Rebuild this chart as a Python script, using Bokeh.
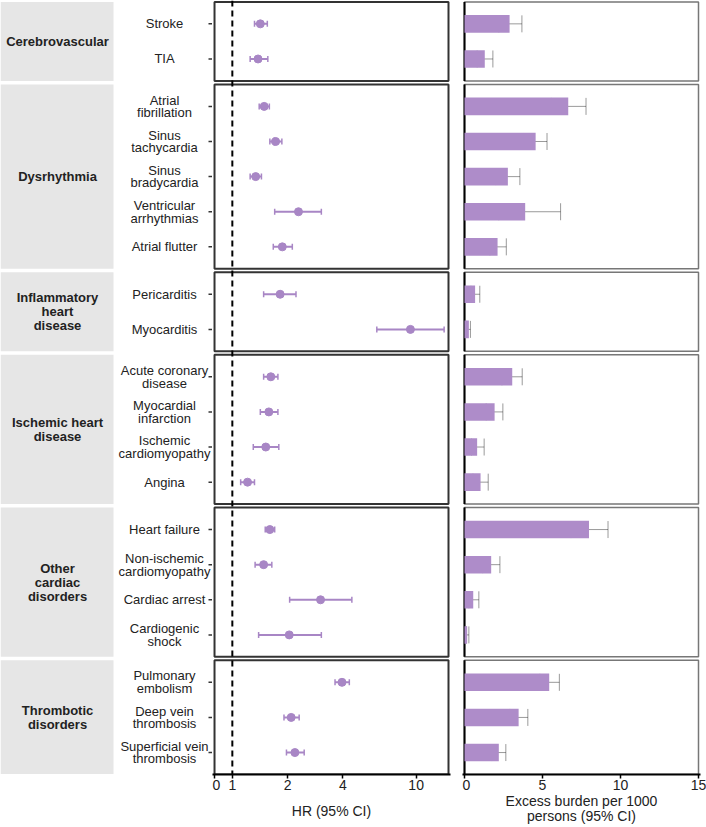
from bokeh.plotting import figure
from bokeh.layouts import row
from bokeh.models import (Range1d, FixedTicker, CustomJSTickFormatter, Whisker, TeeHead,
                          Span, ColumnDataSource)
from bokeh.core.properties import value
from bokeh.embed import file_html
from bokeh.resources import INLINE

# ---------------- data ----------------
groups = ["Cerebrovascular", "Dysrhythmia", "Inflammatory\nheart\ndisease",
          "Ischemic heart\ndisease", "Other\ncardiac\ndisorders", "Thrombotic\ndisorders"]
group_sizes = [2, 5, 2, 4, 4, 3]
outcomes = ["Stroke", "TIA", "Atrial\nfibrillation", "Sinus\ntachycardia", "Sinus\nbradycardia",
            "Ventricular\narrhythmias", "Atrial flutter", "Pericarditis", "Myocarditis",
            "Acute coronary\ndisease", "Myocardial\ninfarction", "Ischemic\ncardiomyopathy",
            "Angina", "Heart failure", "Non-ischemic\ncardiomyopathy", "Cardiac arrest",
            "Cardiogenic\nshock", "Pulmonary\nembolism", "Deep vein\nthrombosis",
            "Superficial vein\nthrombosis"]
hr = [1.42, 1.38, 1.49, 1.72, 1.34, 2.29, 1.87, 1.82, 9.31, 1.62, 1.58, 1.52, 1.21,
      1.60, 1.48, 3.02, 2.04, 3.95, 2.09, 2.19]
hr_lo = [1.32, 1.25, 1.40, 1.60, 1.25, 1.70, 1.67, 1.48, 6.11, 1.48, 1.42, 1.30, 1.11,
         1.51, 1.33, 2.05, 1.39, 3.62, 1.91, 1.97]
hr_hi = [1.55, 1.56, 1.59, 1.86, 1.44, 3.05, 2.12, 2.22, 14.2, 1.77, 1.77, 1.79, 1.32,
         1.70, 1.64, 4.47, 3.05, 4.33, 2.31, 2.46]
burden = [2.89, 1.30, 6.65, 4.56, 2.78, 3.89, 2.12, 0.68, 0.28, 3.06, 1.93, 0.81, 1.03,
          7.98, 1.71, 0.56, 0.17, 5.43, 3.47, 2.20]
burden_lo = [2.20, 0.81, 5.56, 3.81, 2.01, 2.20, 1.63, 0.41, 0.15, 2.40, 1.39, 0.45, 0.54,
             6.83, 1.17, 0.28, 0.13, 4.83, 2.91, 1.75]
burden_hi = [3.68, 1.82, 7.79, 5.29, 3.55, 6.16, 2.68, 0.98, 0.38, 3.70, 2.46, 1.26, 1.52,
             9.20, 2.27, 0.92, 0.28, 6.08, 4.06, 2.65]
hr_ticks = [0.8, 1, 2, 4, 10]      # 0.8 is labelled "0"
burden_ticks = [0, 5, 10, 15]

# ---------------- layout helpers ----------------
PAD = 0.625
GAP = 0.1
row_y, panel_top, panel_bot = [], [], []
s = 0.0
for n in group_sizes:
    panel_top.append(s)
    for i in range(n):
        row_y.append(s + PAD + i)
    e = s + (n - 1) + 2 * PAD
    panel_bot.append(e)
    s = e + GAP
total = panel_bot[-1]
group_mid = [(a + b) / 2 for a, b in zip(panel_top, panel_bot)]

FONT = "Liberation Sans"
PURPLE = "#a886c5"
BAR = "#ae8cc9"
FH = 774
yr = Range1d(start=total, end=-0.04)

def base(**kw):
    p = figure(frame_height=FH, y_range=yr, toolbar_location=None, output_backend="svg",
               min_border_top=0, min_border_bottom=0, **kw)
    p.grid.visible = False
    p.outline_line_color = None
    return p

# ---------------- labels column ----------------
LW = 212
pl = base(frame_width=LW, x_range=Range1d(0, LW), min_border_left=0, min_border_right=0)
pl.axis.visible = False
pl.quad(left=0, right=113, top=panel_top, bottom=panel_bot, fill_color="#e6e6e6", line_color=None)
pl.text(x=[57] * len(groups), y=group_mid, text=groups, text_font=value(FONT),
        text_font_style="bold", text_font_size="13px", text_align="center",
        text_baseline="middle", text_color="#222222", text_line_height=0.93)
pl.text(x=[164] * len(outcomes), y=row_y, text=outcomes, text_font=value(FONT),
        text_font_size="13px", text_align="center", text_baseline="middle",
        text_color="#222222", text_line_height=0.85)
# y tick marks of the HR panels
pl.segment(x0=[LW - 4] * len(row_y), x1=[LW] * len(row_y), y0=row_y, y1=row_y,
           line_color="#333333", line_width=1.5)

# ---------------- HR column ----------------
ph = base(frame_width=238, x_axis_type="log", x_range=Range1d(0.780, 15.38),
          min_border_left=0, min_border_right=12)
ph.quad(left=0.8, right=15, top=panel_top, bottom=panel_bot, fill_color=None,
        line_color="#333333", line_width=2)
ph.add_layout(Span(location=1, dimension="height", line_color="black", line_width=2,
                   line_dash="6 4"))
hsrc = ColumnDataSource(dict(y=row_y, hr=hr, lo=hr_lo, hi=hr_hi))
ph.add_layout(Whisker(source=hsrc, base="y", lower="lo", upper="hi", dimension="width",
                      line_color=PURPLE, line_width=2,
                      lower_head=TeeHead(size=6, line_color=PURPLE, line_width=1.5),
                      upper_head=TeeHead(size=6, line_color=PURPLE, line_width=1.5)))
ph.scatter(x="hr", y="y", source=hsrc, size=8, color=PURPLE)

ph.xaxis.ticker = FixedTicker(ticks=hr_ticks)
ph.xaxis.formatter = CustomJSTickFormatter(code="return tick < 0.9 ? '0' : String(Math.round(tick));")
ph.xaxis.axis_label = "HR (95% CI)"
ph.yaxis.visible = False

# ---------------- burden column ----------------
pb = base(frame_width=238, x_range=Range1d(-0.128, 15.128), min_border_left=0, min_border_right=6)
pb.quad(left=0, right=15, top=panel_top, bottom=panel_bot, fill_color=None,
        line_color="#777777", line_width=1.5)
pb.segment(x0=[0] * len(panel_top), x1=[0] * len(panel_top), y0=panel_top, y1=panel_bot,
           line_color="black", line_width=2)
bsrc = ColumnDataSource(dict(y=row_y, b=burden, lo=burden_lo, hi=burden_hi))
pb.hbar(y="y", left=0, right="b", height=0.5, source=bsrc, fill_color=BAR, line_color=None)
pb.add_layout(Whisker(source=bsrc, base="y", lower="lo", upper="hi", dimension="width",
                      line_color="black", line_alpha=0.4, line_width=1,
                      lower_head=TeeHead(size=17, line_color="black", line_alpha=0.4, line_width=1),
                      upper_head=TeeHead(size=17, line_color="black", line_alpha=0.4, line_width=1)))
pb.xaxis.ticker = FixedTicker(ticks=burden_ticks)
pb.xaxis.axis_label = "Excess burden per 1000\npersons (95% CI)"
pb.yaxis.visible = False

for p, standoff in ((ph, 10), (pb, 0)):
    ax = p.xaxis
    ax.axis_line_color = "black"
    ax.axis_line_width = 2
    ax.major_tick_in = 0
    ax.major_tick_out = 4
    ax.major_tick_line_color = "black"
    ax.major_tick_line_width = 1.5
    ax.minor_tick_line_color = None
    ax.major_label_text_font = FONT
    ax.major_label_text_font_size = "14px"
    ax.major_label_text_color = "#222222"
    ax.major_label_standoff = 1
    ax.axis_label_text_font = FONT
    ax.axis_label_text_font_size = "14px"
    ax.axis_label_text_font_style = "normal"
    ax.axis_label_text_color = "#222222"
    ax.axis_label_standoff = standoff
    ax.axis_label_text_line_height = 0.95

layout = row(pl, ph, pb, spacing=0)
open("out.html", "w").write(file_html(layout, INLINE))
